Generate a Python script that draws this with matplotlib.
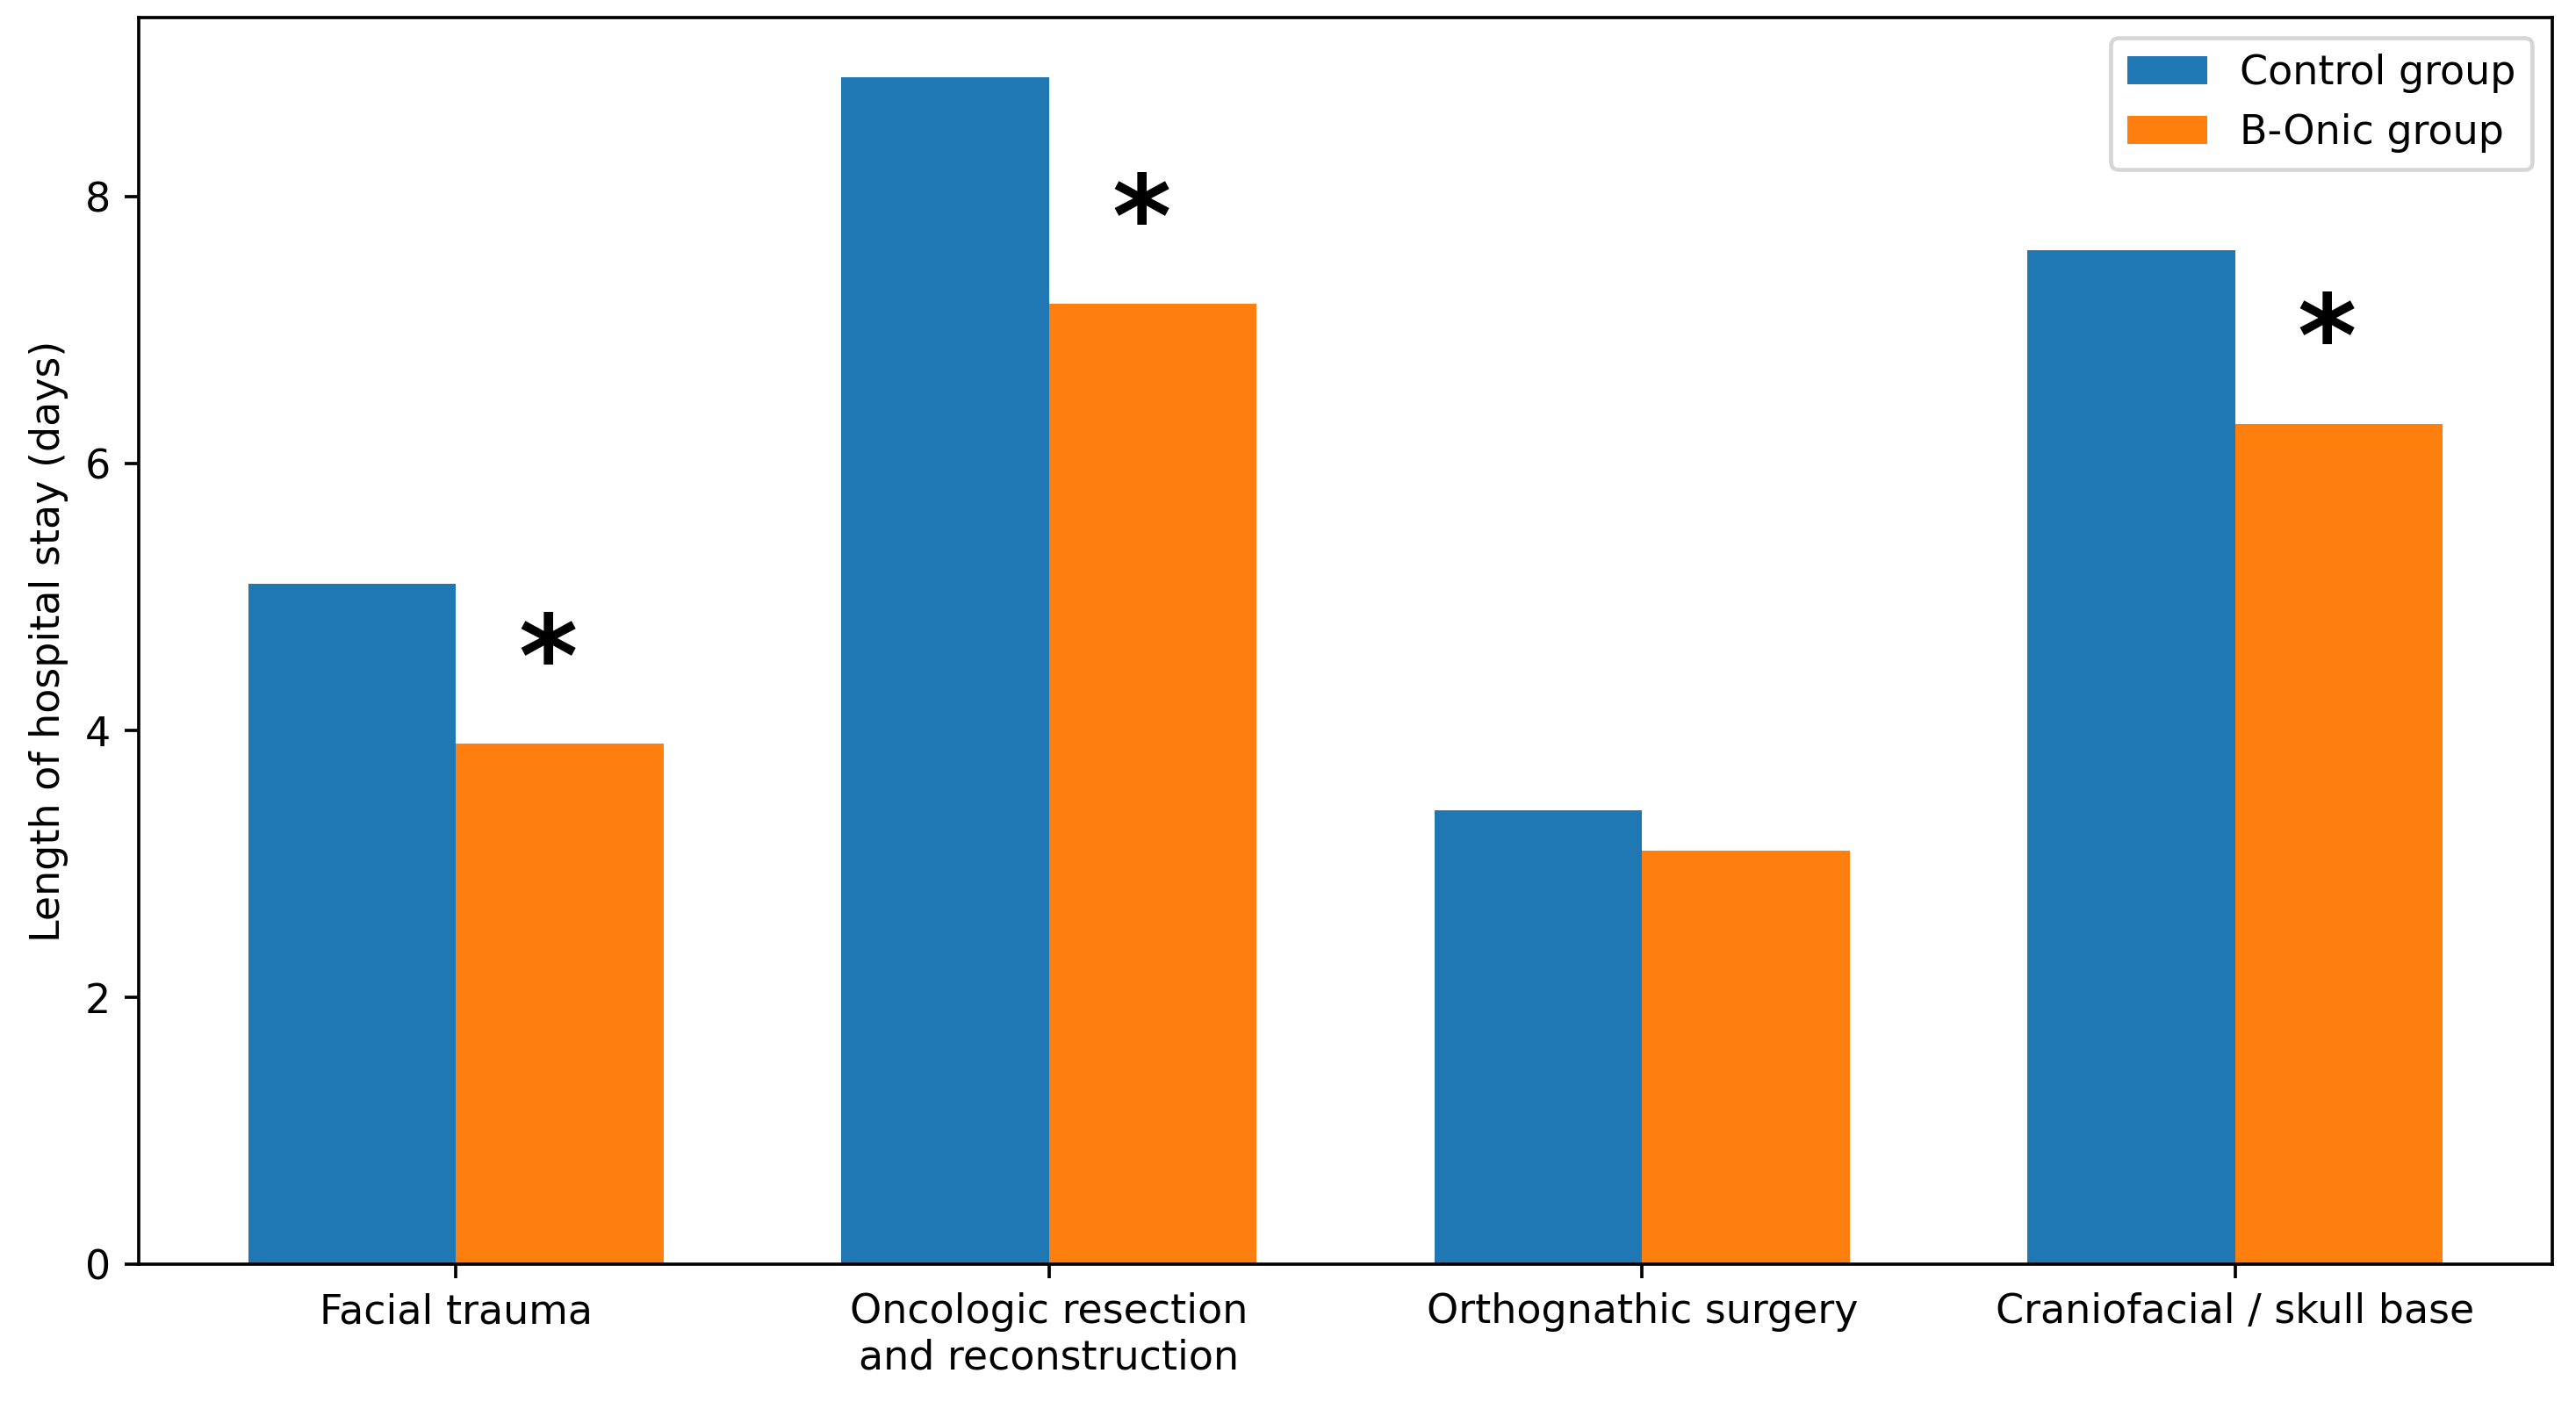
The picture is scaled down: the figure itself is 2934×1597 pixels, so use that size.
import numpy as np
import matplotlib
matplotlib.use("Agg")
import matplotlib.pyplot as plt

# data
categories = ["Facial trauma", "Oncologic resection\nand reconstruction",
              "Orthognathic surgery", "Craniofacial / skull base"]
control = [5.1, 8.9, 3.4, 7.6]
bonic = [3.9, 7.2, 3.1, 6.3]
significant = [True, True, False, True]

plt.rcParams["font.family"] = ["DejaVu Sans"]

DPI = 331
fig = plt.figure(figsize=(2934 / DPI, 1597 / DPI), dpi=DPI)
ax = fig.add_axes([0.0539, 0.0983, 0.9369, 0.8892])

x = np.arange(len(categories))
width = 0.35

ax.bar(x - width / 2, control, width, color="#1f77b4", label="Control group")
ax.bar(x + width / 2, bonic, width, color="#ff7f0e", label="B-Onic group")

# asterisks over the B-Onic bars where the difference is significant
for xi, val, sig in zip(x, bonic, significant):
    if sig:
        ax.text(xi + width / 2 - 0.02, val + 0.68, "*", ha="center",
                va="center_baseline", fontsize=28, fontweight="bold")

ax.set_xticks(x)
ax.set_xticklabels(categories)
ax.set_ylabel("Length of hospital stay (days)")
ax.legend(loc="upper right")

fig.savefig("out.png", dpi=DPI)
